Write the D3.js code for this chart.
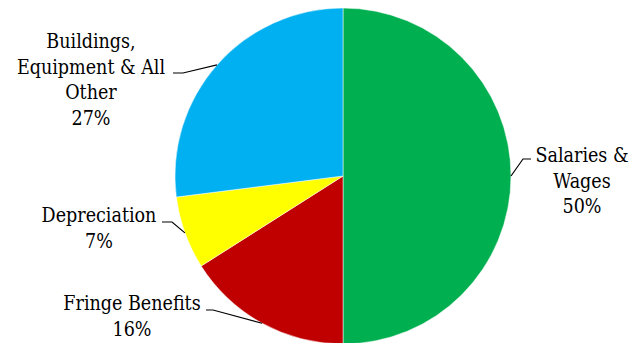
<!DOCTYPE html>
<html>
<head>
<meta charset="utf-8">
<script src="https://cdn.jsdelivr.net/npm/d3@7"></script>
<style>
  body { margin: 0; background: #fff; }
  svg text { font-family: 'DejaVu Serif Condensed', 'DejaVu Serif', serif; font-stretch: condensed; font-size: 19.5px; fill: #000; }
</style>
</head>
<body>
<div class="chart"></div>
<script>
var width = 629, height = 343;

// data
var categories = ['Salaries & Wages', 'Fringe Benefits', 'Depreciation', 'Buildings, Equipment & All Other'];
var values = [50, 16, 7, 27];
var labelLines = [
    ['Salaries &', 'Wages', '50%'],
    ['Fringe Benefits', '16%'],
    ['Depreciation', '7%'],
    ['Buildings,', 'Equipment & All', 'Other', '27%']
];
var colourPalette = ['#00B050', '#C00000', '#FFFF00', '#00B0F0'];

// label layout (text centre x, first baseline y, elbow end x, elbow y)
var labelLayout = [
    { tx: 582, ty: 162, ex: 531, ey: 159, kx: 523 },
    { tx: 132, ty: 310, ex: 206, ey: 310, kx: 213 },
    { tx: 99,  ty: 222, ex: 162, ey: 222, kx: 172 },
    { tx: 91,  ty: 48,  ex: 173, ey: 73,  kx: 183 }
];

var cx = 343, cy = 176, radius = 168, lineH = 25.5;

var svg = d3.select('.chart')
    .append('svg')
    .attr('width', width)
    .attr('height', height);

var pie = d3.pie().sort(null).value(function (d) { return d; });
var arcs = pie(values);
var arc = d3.arc().innerRadius(0).outerRadius(radius);
var scaleColor = d3.scaleOrdinal().domain(categories).range(colourPalette);

var g = svg.append('g').attr('transform', 'translate(' + cx + ',' + cy + ')');

g.selectAll('path')
    .data(arcs)
    .enter()
    .append('path')
    .attr('d', arc)
    .attr('fill', function (d, i) { return scaleColor(categories[i]); })
    .attr('stroke', '#fff')
    .attr('stroke-width', 0.5);

// leader lines
svg.selectAll('polyline')
    .data(arcs)
    .enter()
    .append('polyline')
    .attr('fill', 'none')
    .attr('stroke', '#000')
    .attr('stroke-width', 1.2)
    .attr('points', function (d, i) {
        var a = (d.startAngle + d.endAngle) / 2;
        var px = cx + radius * Math.sin(a), py = cy - radius * Math.cos(a);
        var L = labelLayout[i];
        return [[L.ex, L.ey], [L.kx, L.ey], [px, py]].join(' ');
    });

// labels
var labels = svg.selectAll('text.lbl')
    .data(labelLines)
    .enter()
    .append('text')
    .attr('class', 'lbl')
    .attr('text-anchor', 'middle');

labels.each(function (lines, i) {
    var L = labelLayout[i];
    d3.select(this).selectAll('tspan')
        .data(lines)
        .enter()
        .append('tspan')
        .attr('x', L.tx)
        .attr('y', function (t, j) { return L.ty + j * lineH; })
        .text(function (t) { return t; });
});
</script>
</body>
</html>
